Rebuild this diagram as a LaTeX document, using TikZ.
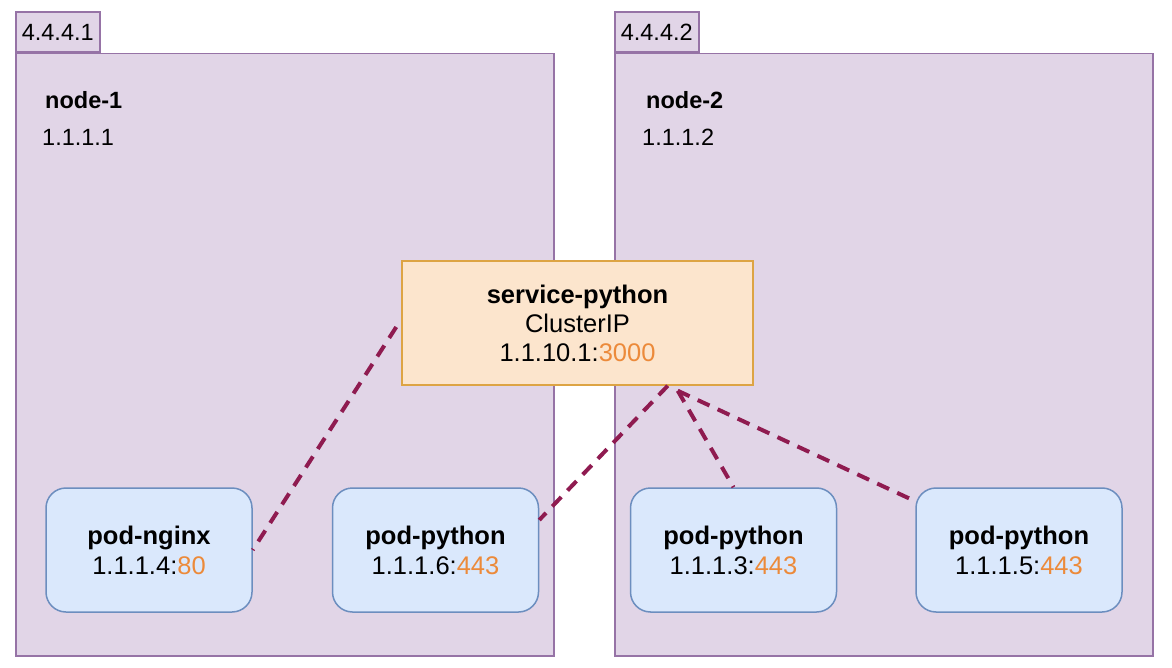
\documentclass[tikz,border=0pt]{standalone}
\usepackage{fontspec}
\setmainfont{Liberation Sans}
\usetikzlibrary{positioning}

\definecolor{hostfill}{HTML}{E1D5E7}
\definecolor{hostline}{HTML}{9673A6}
\definecolor{podfill}{HTML}{DAE8FC}
\definecolor{podline}{HTML}{6C8EBF}
\definecolor{svcfill}{HTML}{FCE5CD}
\definecolor{svcline}{HTML}{DDA444}
\definecolor{portc}{HTML}{EC8A3A}
\definecolor{linkc}{HTML}{8F1B50}

\begin{document}
\begin{tikzpicture}[x=1pt,y=-1pt,
  node distance=79pt,
  host/.style={draw=hostline,fill=hostfill,line width=1.5pt,inner sep=0pt,
    minimum width=538pt,minimum height=602pt,anchor=north west},
  hosttab/.style={draw=hostline,fill=hostfill,line width=1.5pt,inner sep=0pt,
    minimum width=84pt,minimum height=40pt,anchor=south west,font=\fontsize{23.5}{28}\selectfont},
  hostlabel/.style={anchor=west,inner sep=0pt,font=\fontsize{23.5}{28}\selectfont},
  pod/.style={draw=podline,fill=podfill,line width=1.5pt,rounded corners=20pt,
    minimum width=206pt,minimum height=124pt,align=center,font=\fontsize{25.5}{30}\selectfont},
  service/.style={draw=svcline,fill=svcfill,line width=1.5pt,
    minimum width=351pt,minimum height=124pt,align=center,font=\fontsize{25.5}{29}\selectfont},
  link/.style={draw=linkc,line width=4pt,dash pattern=on 13pt off 9pt},
]
  \useasboundingbox (0,0) rectangle (1172,668);

  % Hosts
  \node[host] (host1) at (15,53) {};
  \node[hosttab] (tab1) at (host1.north west) {4.4.4.1};
  \node[hostlabel] (name1) at (45,100) {\textbf{node-1}};
  \node[hostlabel] (ip1) at (42,137) {1.1.1.1};

  \node[host] (host2) at (614,53) {};
  \node[hosttab] (tab2) at (host2.north west) {4.4.4.2};
  \node[hostlabel] (name2) at (646,100) {\textbf{node-2}};
  \node[hostlabel] (ip2) at (642,137) {1.1.1.2};

  % Service
  \node[service] (svc) at (577.5,323) {\textbf{service-python}\\ClusterIP\\1.1.10.1:\textcolor{portc}{3000}};

  % Pods
  \node[pod] (nginx) at (149,550) {\textbf{pod-nginx}\\1.1.1.4:\textcolor{portc}{80}};
  \node[pod,right=of nginx] (py6) {\textbf{pod-python}\\1.1.1.6:\textcolor{portc}{443}};
  \node[pod] (py3) at (733.5,550) {\textbf{pod-python}\\1.1.1.3:\textcolor{portc}{443}};
  \node[pod,right=78pt of py3] (py5) {\textbf{pod-python}\\1.1.1.5:\textcolor{portc}{443}};

  % Links
  \draw[link] ([xshift=-5pt,yshift=-4pt]svc.west) -- (nginx.east);
  \draw[link] ([xshift=-86pt]svc.south east) -- ([yshift=30pt]py6.east);
  \draw[link] ([xshift=-76pt,yshift=-5pt]svc.south east) -- (py3.north);
  \draw[link] ([xshift=-76pt,yshift=-5pt]svc.south east) -- ([yshift=-14pt]py5.north west);
\end{tikzpicture}
\end{document}
